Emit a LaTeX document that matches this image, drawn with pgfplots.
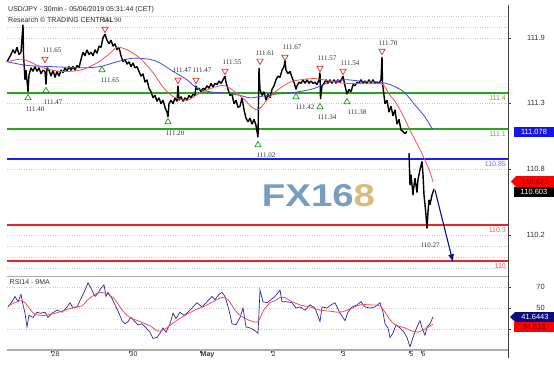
\documentclass[border=0pt]{standalone}
\usepackage{pgfplots}
\pgfplotsset{compat=1.18}
\usetikzlibrary{arrows.meta}
\usepackage{fontspec}
\setmainfont{Liberation Sans}
\newfontfamily\seriffont{Liberation Serif}
\usepackage{graphicx}
\definecolor{lvgreen}{RGB}{40,165,30}
\definecolor{lvgreentxt}{RGB}{110,160,60}
\definecolor{lvblue}{RGB}{30,30,255}
\definecolor{lvbluetxt}{RGB}{110,110,250}
\definecolor{lvred}{RGB}{235,35,35}
\definecolor{lvredtxt}{RGB}{250,90,90}
\definecolor{mared}{RGB}{240,80,80}
\definecolor{mablue}{RGB}{70,70,230}
\definecolor{rsiblue}{RGB}{40,40,170}
\definecolor{trired}{RGB}{225,40,40}
\definecolor{trigreen}{RGB}{30,150,30}
\definecolor{fxblue}{RGB}{95,140,180}
\definecolor{fxgold}{RGB}{210,175,100}
\definecolor{boxblue}{RGB}{20,20,235}
\definecolor{boxnavy}{RGB}{10,10,130}
\begin{document}
\begin{tikzpicture}
\useasboundingbox (0,0) rectangle (554pt,373pt);
% watermark
\node[opacity=0.85] at (318.5pt,177pt) {\resizebox{113pt}{22pt}{\bfseries\color{fxblue}FX16\color{fxgold}8}};
% title
\node[anchor=west, inner sep=0pt, font=\fontsize{7}{8}\selectfont, text=black!85] at (8pt,363pt) {USD/JPY - 30min - 05/06/2019 05:31:44 (CET)};
\node[anchor=west, inner sep=0pt, font=\fontsize{7}{8}\selectfont, text=black!85] at (8pt,353pt) {Research \textcopyright{} TRADING CENTRAL};

\begin{axis}[
  at={(7pt,99pt)}, anchor=south west, scale only axis,
  width=501pt, height=269pt,
  xmin=7, xmax=508, ymin=109.892, ymax=112.133,
  clip=false,
  axis line style={draw=none},
  xtick=\empty,
  ytick={110.217,110.767,111.317,111.858},
  yticklabels={110.2,110.8,111.3,111.9},
  ytick pos=right, yticklabel pos=right,
  tick align=outside, major tick length=3pt,
  tick style={gray!50!black, thin},
  minor y tick num=5, minor tick length=0pt,
  ymajorgrids, yminorgrids,
  major grid style={gray!40, dotted},
  minor grid style={gray!40, dotted},
  extra y ticks={109.942,110.033,110.125,111.950,112.042},
  extra y tick labels={},
  extra y tick style={major tick length=0pt, grid=major},
  yticklabel style={font=\fontsize{7.5}{8}\selectfont, anchor=east, xshift=34pt, inner sep=0pt, text=black!80},
  /pgf/number format/assume math mode=true,
]
% level lines
\addplot[lvgreen, line width=1.3pt] coordinates {(7,111.4) (508,111.4)};
\addplot[lvgreen, line width=1.3pt] coordinates {(7,111.1) (508,111.1)};
\addplot[lvblue, line width=1.2pt] coordinates {(7,110.85) (508,110.85)};
\addplot[lvred, line width=1.3pt] coordinates {(7,110.3) (508,110.3)};
\addplot[lvred, line width=1.3pt] coordinates {(7,110.0) (508,110.0)};
% price (30 min)
\addplot[black, line width=1.4pt, line join=bevel] coordinates {
(7,111.66) (9,111.69) (11,111.72) (13,111.76) (15,111.73) (17,111.78) (19,111.72) (21,111.74)
(23,111.97) (23.5,111.72) (25,111.51) (26,111.59) (28,111.41) (29,111.55) (31,111.61) (33,111.58)
(35,111.62) (37,111.58) (39,111.61) (41,111.56) (43,111.59) (45,111.58) (46,111.47) (47,111.61)
(49,111.59) (51,111.54) (53,111.59) (55,111.53) (57,111.58) (59,111.54) (61,111.59) (63,111.57)
(65,111.61) (67,111.58) (69,111.62) (71,111.59) (73,111.62) (75,111.59) (77,111.63) (79,111.61)
(81,111.68) (83,111.74) (85,111.71) (87,111.76) (89,111.72) (91,111.74) (93,111.71) (95,111.76)
(97,111.73) (99,111.79) (101,111.78) (103,111.86) (105,111.89) (107,111.84) (109,111.81) (111,111.84)
(113,111.79) (115,111.81) (117,111.76) (119,111.78) (121,111.71) (123,111.66) (125,111.68) (127,111.64)
(129,111.66) (131,111.62) (133,111.65) (135,111.61) (137,111.62) (139,111.58) (141,111.54) (143,111.56)
(145,111.49) (147,111.51) (149,111.44) (151,111.41) (153,111.36) (155,111.38) (157,111.33) (159,111.36)
(161,111.31) (163,111.34) (165,111.28) (167,111.24) (168,111.20) (169,111.31) (171,111.34) (173,111.31)
(175,111.36) (177,111.33) (178,111.46) (179,111.34) (181,111.37) (183,111.33) (185,111.36) (187,111.34)
(189,111.38) (191,111.36) (193,111.39) (195,111.38) (196,111.46) (197,111.43) (199,111.44) (201,111.41)
(203,111.44) (205,111.43) (207,111.46) (209,111.44) (211,111.48) (213,111.45) (215,111.48) (217,111.47)
(219,111.50) (221,111.48) (223,111.51) (225,111.54) (226,111.49) (228,111.43) (230,111.38) (232,111.39)
(234,111.31) (236,111.34) (238,111.28) (240,111.29) (242,111.36) (244,111.26) (246,111.19) (248,111.16)
(250,111.19) (252,111.14) (254,111.18) (256,111.13) (257,111.08) (258,111.03) (259,111.61) (260,111.43)
(262,111.38) (264,111.41) (266,111.34) (268,111.39) (270,111.36) (272,111.43) (274,111.46) (276,111.51)
(278,111.54) (280,111.53) (282,111.59) (284,111.62) (285,111.67) (286,111.59) (288,111.56) (290,111.58)
(292,111.53) (294,111.49) (296,111.43) (297,111.46) (299,111.49) (301,111.48) (303,111.51) (305,111.48)
(307,111.51) (309,111.48) (311,111.50) (313,111.48) (315,111.49) (317,111.47) (319,111.51) (320,111.57)
(320.5,111.35) (322,111.46) (324,111.48) (326,111.51) (328,111.48) (330,111.51) (332,111.48) (334,111.51)
(336,111.48) (338,111.51) (340,111.49) (342,111.52) (343,111.54) (345,111.46) (347,111.39) (349,111.43)
(351,111.41) (353,111.47) (355,111.46) (357,111.49) (359,111.48) (361,111.51) (363,111.48) (365,111.50)
(367,111.48) (369,111.51) (371,111.48) (373,111.51) (375,111.48) (377,111.49) (379,111.48) (381,111.51)
(382,111.70) (382.5,111.48) (384,111.38) (385,111.31) (387,111.34) (389,111.24) (391,111.29) (393,111.21)
(395,111.26) (397,111.14) (399,111.18) (401,111.09) (403,111.08) (405,111.06) (407,111.08)
};
\addplot[black, line width=1.4pt, line join=bevel] coordinates {
(409,110.90) (410,110.63) (411,110.72) (413,110.55) (414,110.63) (415,110.69) (417,110.57) (418,110.68)
(420,110.76) (422,110.83) (423,110.72) (424,110.55) (425,110.47) (426,110.38) (427,110.27) (428,110.41)
(429,110.51) (430,110.47) (432,110.55) (434,110.60)
};
% moving averages
\addplot[mablue, line width=0.8pt, smooth] coordinates {
(7,111.66) (27,111.63) (50,111.62) (83,111.61) (100,111.62) (117,111.66) (133,111.69) (150,111.68)
(160,111.65) (173,111.58) (187,111.51) (197,111.44) (210,111.41) (225,111.40) (240,111.38) (250,111.36)
(260,111.37) (275,111.39) (290,111.40) (305,111.42) (315,111.44) (330,111.49) (345,111.51) (360,111.50)
(380,111.49) (390,111.47) (398,111.44) (405,111.40) (415,111.30) (425,111.20) (433,111.09)
};
\addplot[mared, line width=0.8pt, smooth] coordinates {
(7,111.66) (23,111.68) (43,111.61) (60,111.58) (80,111.59) (97,111.65) (110,111.73) (117,111.78)
(127,111.76) (140,111.69) (153,111.57) (163,111.45) (173,111.37) (187,111.34) (200,111.40) (215,111.45)
(225,111.46) (235,111.41) (245,111.34) (252,111.28) (258,111.26) (264,111.31) (270,111.37) (280,111.44)
(290,111.49) (300,111.51) (315,111.52) (330,111.50) (345,111.48) (360,111.48) (380,111.48) (385,111.45)
(390,111.38) (395,111.33) (400,111.26) (405,111.18) (410,111.09) (415,111.01) (420,110.93) (425,110.84)
(430,110.74) (433,110.66)
};
% projection arrow
\addplot[boxnavy, line width=1.1pt, -{Latex[length=8pt,width=6pt]}] coordinates {(435,110.59) (453,109.99)};
% pivot markers
\addplot[only marks, mark=triangle, mark size=3.6pt, mark options={draw=trired, line width=0.7pt, rotate=180}] coordinates {
(45,111.683) (105,111.933) (178,111.508) (196,111.508) (225,111.583) (260,111.667) (285,111.700) (320,111.608) (343,111.583) (382,111.750)
};
\addplot[only marks, mark=triangle, mark size=3.6pt, mark options={draw=trigreen, line width=0.7pt}] coordinates {
(28,111.358) (46,111.417) (102,111.592) (168,111.158) (258,110.967) (296,111.367) (320,111.283) (347,111.325)
};
% pivot labels
\begin{scope}[every node/.style={font=\seriffont\fontsize{7}{8}\selectfont, text=black!80, inner sep=0pt}]
\node at (axis cs:52,111.758) {111.65};
\node at (axis cs:112,112.008) {111.90};
\node at (axis cs:182,111.592) {111.47};
\node at (axis cs:202,111.592) {111.47};
\node at (axis cs:232,111.658) {111.55};
\node at (axis cs:265,111.733) {111.61};
\node at (axis cs:292,111.783) {111.67};
\node at (axis cs:327,111.692) {111.57};
\node at (axis cs:350,111.650) {111.54};
\node at (axis cs:388,111.817) {111.70};
\node at (axis cs:35,111.267) {111.40};
\node at (axis cs:53,111.325) {111.47};
\node at (axis cs:110,111.508) {111.65};
\node at (axis cs:175,111.067) {111.20};
\node at (axis cs:266,110.883) {111.02};
\node at (axis cs:305,111.283) {111.42};
\node at (axis cs:327,111.200) {111.34};
\node at (axis cs:357,111.242) {111.38};
\node at (axis cs:430,110.133) {110.27};
\end{scope}
% level labels
\begin{scope}[every node/.style={font=\fontsize{7}{8}\selectfont, inner sep=0pt, anchor=north east}]
\node[text=lvgreentxt] at (axis cs:506,111.38) {111.4};
\node[text=lvgreentxt] at (axis cs:506,111.08) {111.1};
\node[text=lvbluetxt] at (axis cs:506,110.83) {110.85};
\node[text=lvredtxt] at (axis cs:506,110.28) {110.3};
\node[text=lvredtxt] at (axis cs:506,109.98) {110};
\end{scope}
\end{axis}

\begin{axis}[
  at={(7pt,23pt)}, anchor=south west, scale only axis,
  width=501pt, height=74pt,
  xmin=7, xmax=508, ymin=10, ymax=80.5,
  axis line style={draw=none},
  ytick={30,50,70}, yticklabels={,50,70},
  ytick pos=right, yticklabel pos=right,
  xtick pos=bottom,
  ymajorgrids, major grid style={gray!40, dotted},
  xtick={51,129,200,271,341,409,421},
  xticklabels={28,30,\textbf{May},2,3,5,6},
  tick align=outside, major tick length=3pt,
  tick style={gray!50!black, thin},
  xticklabel style={font=\fontsize{7}{8}\selectfont, anchor=north west, inner sep=0pt, xshift=0.5pt, yshift=2pt, text=black!80},
  yticklabel style={font=\fontsize{7.5}{8}\selectfont, anchor=east, xshift=34pt, inner sep=0pt, text=black!80},
  /pgf/number format/assume math mode=true,
]
\draw[gray!65, line width=1.6pt] (rel axis cs:0,1) -- (rel axis cs:1,1);
\draw[gray!65, line width=1.6pt] (rel axis cs:0,0) -- (rel axis cs:1,0);
\addplot[rsiblue, line width=0.7pt] coordinates {
(8,51) (12,56) (15,61) (18,56) (21,63) (23,53) (25,45) (27,32) (29,43) (33,41) (37,46) (40,45)
(45,46) (48,41) (52,45) (57,48) (62,46) (67,51) (70,55) (73,50) (77,51) (82,61) (85,67) (88,74)
(91,69) (95,61) (98,64) (101,69) (104,72) (106,61) (108,65) (112,59) (116,51) (119,45) (122,38) (125,35)
(128,37) (131,41) (134,38) (138,34) (142,35) (146,31) (150,27) (153,21) (157,22) (160,26) (163,31) (166,27)
(170,35) (173,45) (176,40) (180,46) (184,43) (188,46) (193,51) (197,55) (202,51) (207,56) (212,61) (215,58)
(219,63) (222,65) (225,61) (229,48) (232,35) (236,34) (240,41) (243,50) (246,32) (250,31) (254,29) (258,26)
(260,67) (263,56) (267,55) (271,58) (275,61) (280,67) (282,56) (287,56) (292,55) (296,50) (300,51) (305,48)
(310,53) (315,50) (320,37) (322,51) (327,50) (331,53) (335,55) (340,45) (345,38) (348,46) (352,51) (357,53)
(361,56) (365,51) (370,50) (375,51) (380,55) (383,46) (385,35) (388,31) (390,22) (393,26) (396,34) (400,31)
(404,27) (407,22) (410,13) (413,22) (417,32) (420,38) (422,31) (425,24) (427,32) (430,35) (433,41.6)
};
\addplot[mared, line width=0.8pt, smooth] coordinates {
(8,52) (20,57) (25,55) (30,49) (35,44) (45,43) (55,45) (65,48) (75,51) (82,52) (88,58) (95,63)
(100,65) (105,64) (110,62) (115,58) (120,51) (125,45) (130,41) (140,37) (150,33) (158,28) (165,30) (175,37)
(185,43) (195,48) (205,52) (215,57) (222,60) (228,58) (235,48) (240,43) (250,38) (258,37) (263,47) (270,55)
(275,57) (280,60) (285,60) (290,57) (300,53) (310,51) (320,48) (330,47) (340,46) (350,49) (360,53) (370,53)
(380,52) (385,46) (390,39) (395,34) (405,31) (412,28) (418,27) (425,30) (433,34.6)
};
\node[anchor=north west, inner sep=0pt, font=\fontsize{7}{8}\selectfont, text=black!80] at (rel axis cs:0.005,0.96) {RSI14 - 9MA};
\end{axis}

% right axis line
\draw[gray!50!black, line width=0.6pt] (508pt,368pt) -- (508pt,15pt);
% value boxes
\fill[boxblue] (514pt,236pt) rectangle (554pt,246pt);
\node[text=white, font=\fontsize{7.5}{8}\selectfont, inner sep=0pt] at (534pt,241pt) {111.078};
\fill[red] (511pt,191.5pt) -- (516pt,197pt) -- (554pt,197pt) -- (554pt,186pt) -- (516pt,186pt) -- cycle;
\node[text=red!35!black, font=\fontsize{7.5}{8}\selectfont, inner sep=0pt] at (535pt,191.5pt) {110.671};
\fill[black] (514pt,176pt) rectangle (554pt,186pt);
\node[text=white, font=\fontsize{7.5}{8}\selectfont, inner sep=0pt] at (534pt,181pt) {110.603};
\fill[boxnavy] (510pt,56pt) -- (515pt,61pt) -- (554pt,61pt) -- (554pt,51pt) -- (515pt,51pt) -- cycle;
\node[text=white, font=\fontsize{7.5}{8}\selectfont, inner sep=0pt] at (535pt,56pt) {41.6443};
\fill[red] (514pt,41pt) rectangle (554pt,51pt);
\node[text=red!35!black, font=\fontsize{7.5}{8}\selectfont, inner sep=0pt] at (534pt,46pt) {34.613};
\end{tikzpicture}
\end{document}
